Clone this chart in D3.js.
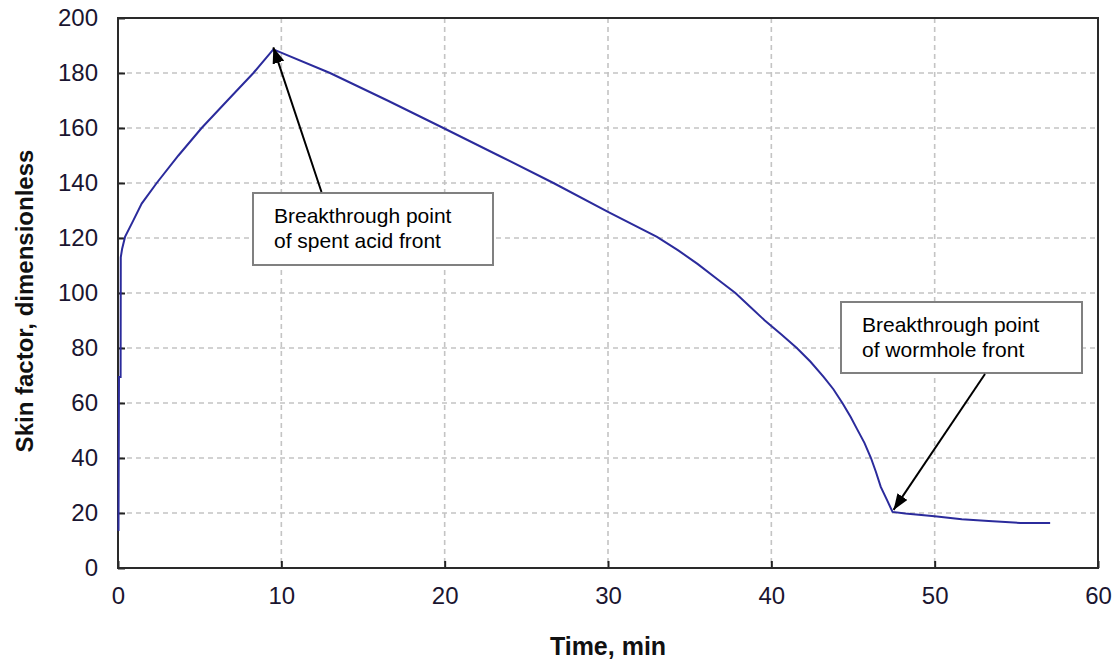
<!DOCTYPE html>
<html>
<head>
<meta charset="utf-8">
<script src="https://cdn.jsdelivr.net/npm/d3@7"></script>
<style>
  body { margin: 0; background: #fff; }
  svg { display: block; font-family: "Liberation Sans", Arial, sans-serif; }
</style>
</head>
<body>
<div class="skin-chart"></div>
<script>
// data
const timeMin = [0.03, 0.06, 0.16, 0.17, 0.25, 0.43, 0.94, 1.45, 2.37, 3.7, 5.12, 6.7, 8.29, 9.51,
  12.98, 16.5, 19.92, 23.3, 26.66, 30.0, 33.0, 34.3, 35.5, 36.7, 37.8, 38.7, 39.6, 40.6, 41.56,
  42.4, 43.2, 43.8, 44.35, 44.85, 45.25, 45.7, 46.1, 46.4, 46.7, 47.1, 47.42, 48.2, 50.0, 51.66,
  53.3, 55.24, 57.07];
const skinFactor = [13.5, 69.5, 69.5, 113, 116, 120.4, 126.4, 132.5, 140, 150, 160, 170, 180, 188.6,
  180, 170, 160, 150, 140, 129.5, 120.4, 115.5, 110.5, 105, 100, 95, 90, 85, 80,
  75, 69.5, 65, 60, 55, 50.5, 45.5, 40, 35, 29.5, 24.5, 20.4, 19.8, 18.8, 17.7,
  17.1, 16.4, 16.4];
const xTicks = [0, 10, 20, 30, 40, 50, 60];
const yTicks = [0, 20, 40, 60, 80, 100, 120, 140, 160, 180, 200];
const notes = [
  {lines: ["Breakthrough point", "of spent acid front"], t: 9.51, s: 188.6},
  {lines: ["Breakthrough point", "of wormhole front"], t: 47.42, s: 20.4}
];

const data = timeMin.map((t, i) => ({t: t, s: skinFactor[i]}));

// set the dimensions and margins of the graph
const margin = {top: 18, right: 20, bottom: 96, left: 118},
    width = 1118 - margin.left - margin.right,
    height = 664 - margin.top - margin.bottom;

const svg = d3.select(".skin-chart")
  .append("svg")
    .attr("width", width + margin.left + margin.right)
    .attr("height", height + margin.top + margin.bottom)
  .append("g")
    .attr("transform", `translate(${margin.left},${margin.top})`);

const x = d3.scaleLinear().domain([0, 60]).range([0, width]);
const y = d3.scaleLinear().domain([0, 200]).range([height, 0]);

// grid lines
svg.append("g")
  .selectAll("line")
  .data(xTicks.slice(1, -1))
  .join("line")
    .attr("x1", d => x(d)).attr("x2", d => x(d))
    .attr("y1", 0).attr("y2", height)
    .attr("stroke", "#c4c4c4")
    .attr("stroke-width", 1.6)
    .attr("stroke-dasharray", "5,4");
svg.append("g")
  .selectAll("line")
  .data(yTicks.slice(1, -1))
  .join("line")
    .attr("x1", 0).attr("x2", width)
    .attr("y1", d => y(d)).attr("y2", d => y(d))
    .attr("stroke", "#c4c4c4")
    .attr("stroke-width", 1.6)
    .attr("stroke-dasharray", "5,4");

// axes, ticks point inward
const xAxis = svg.append("g")
  .attr("transform", `translate(0, ${height})`)
  .call(d3.axisBottom(x).tickValues(xTicks).tickSize(-7).tickPadding(24));
const yAxis = svg.append("g")
  .call(d3.axisLeft(y).tickValues(yTicks).tickSize(-7).tickPadding(20));

[xAxis, yAxis].forEach(a => {
  a.select(".domain").remove();
  a.selectAll(".tick line").attr("stroke", "#222").attr("stroke-width", 2);
  a.selectAll("text")
    .attr("font-size", "24px")
    .attr("fill", "#1a1530")
    .attr("font-family", "'Liberation Sans', Arial, sans-serif");
});
xAxis.selectAll(".tick text").attr("dy", "0.5em");

// plot frame
svg.append("rect")
  .attr("x", 0).attr("y", 0)
  .attr("width", width).attr("height", height)
  .attr("fill", "none")
  .attr("stroke", "#2a2a2a")
  .attr("stroke-width", 2);

// the curve
svg.append("path")
  .datum(data)
  .attr("d", d3.line().x(d => x(d.t)).y(d => y(d.s)))
  .attr("fill", "none")
  .attr("stroke", "#2b2b9c")
  .attr("stroke-width", 2);

// axis titles
svg.append("text")
  .attr("x", width / 2)
  .attr("y", height + 87)
  .attr("text-anchor", "middle")
  .attr("font-size", "25px")
  .attr("font-weight", "bold")
  .attr("fill", "#111")
  .text("Time, min");
svg.append("text")
  .attr("transform", `translate(${-85},${height / 2 + 8}) rotate(-90)`)
  .attr("text-anchor", "middle")
  .attr("font-size", "24px")
  .attr("font-weight", "bold")
  .attr("fill", "#111")
  .text("Skin factor, dimensionless");

// arrow head
svg.append("defs").append("marker")
  .attr("id", "head")
  .attr("viewBox", "0 0 16 12")
  .attr("refX", 16).attr("refY", 6)
  .attr("markerWidth", 16).attr("markerHeight", 12)
  .attr("markerUnits", "userSpaceOnUse")
  .attr("orient", "auto")
  .append("path")
    .attr("d", "M0,0L16,6L0,12Z")
    .attr("fill", "#000");

// annotation boxes (page pixels, shifted into the plot group)
const boxes = [
  {x: 253, y: 193, w: 240, h: 72, tx: 321.5, ty: 192},
  {x: 841, y: 302, w: 241, h: 71, tx: 985, ty: 374}
];
notes.forEach((n, i) => {
  const b = boxes[i];
  const g = svg.append("g").attr("transform", `translate(${-margin.left},${-margin.top})`);
  g.append("rect")
    .attr("x", b.x).attr("y", b.y)
    .attr("width", b.w).attr("height", b.h)
    .attr("fill", "#fff")
    .attr("stroke", "#808080")
    .attr("stroke-width", 2);
  g.selectAll("text.note" + i)
    .data(n.lines)
    .join("text")
      .attr("x", b.x + 21)
      .attr("y", (d, j) => b.y + 30 + j * 25)
      .attr("font-size", "21px")
      .attr("fill", "#000")
      .text(d => d);
  g.append("line")
    .attr("x1", b.tx).attr("y1", b.ty)
    .attr("x2", x(n.t) + margin.left + (i == 0 ? 0 : 1))
    .attr("y2", y(n.s) + margin.top - 2)
    .attr("stroke", "#000")
    .attr("stroke-width", 2)
    .attr("marker-end", "url(#head)");
});
</script>
</body>
</html>
